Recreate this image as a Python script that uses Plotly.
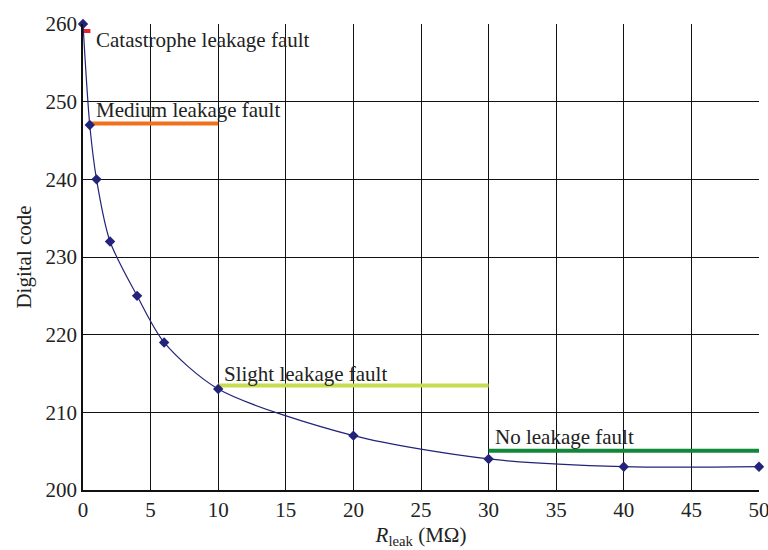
import plotly.graph_objects as go

r_leak = [0, 0.5, 1, 2, 4, 6, 10, 20, 30, 40, 50]
digital_code = [260, 247, 240, 232, 225, 219, 213, 207, 204, 203, 203]

fault_names = ["Catastrophe leakage fault", "Medium leakage fault",
               "Slight leakage fault", "No leakage fault"]
fault_x0 = [0, 0.5, 10, 30]
fault_x1 = [0.55, 10, 30, 50]
fault_y = [259.1, 247.2, 213.45, 205.05]
fault_colors = ["#e8202a", "#f07020", "#c8dc50", "#10883a"]
label_x = [0.85, 0.85, 10.3, 30.3]
label_y = [257.9, 248.9, 215.0, 206.8]

x_ticks = list(range(0, 51, 5))
y_ticks = list(range(200, 261, 10))

FONT = "Liberation Serif, Times New Roman, serif"
FS = 21

fig = go.Figure()

for name, x0, x1, y, c in zip(fault_names, fault_x0, fault_x1, fault_y, fault_colors):
    fig.add_trace(go.Scatter(x=[x0, x1], y=[y, y], mode="lines",
                             line=dict(color=c, width=4), showlegend=False,
                             hoverinfo="skip"))

fig.add_trace(go.Scatter(
    x=r_leak, y=digital_code, mode="lines+markers",
    line=dict(color="#23237a", width=1.2, shape="spline", smoothing=0.8),
    marker=dict(symbol="diamond", size=8, color="#23237a"),
    showlegend=False, cliponaxis=False))

for name, lx, ly in zip(fault_names, label_x, label_y):
    fig.add_annotation(x=lx, y=ly, text=name, showarrow=False,
                       xanchor="left", yanchor="middle",
                       font=dict(family=FONT, size=FS, color="#222"))

fig.update_xaxes(range=[0, 50], tickvals=x_ticks, showgrid=True,
                 gridcolor="#111", gridwidth=1, showline=True, linecolor="#111",
                 linewidth=1.5, mirror=False, zeroline=False, ticks="",
                 ticklabeloverflow="allow", automargin=False,
                 tickfont=dict(family=FONT, size=FS, color="#222"),
                 title=dict(text="<i>R</i><sub>leak</sub> (MΩ)", standoff=6,
                            font=dict(family=FONT, size=FS, color="#222")))
fig.update_yaxes(range=[200, 260], tickvals=y_ticks, showgrid=True,
                 gridcolor="#111", gridwidth=1, showline=True, linecolor="#111",
                 linewidth=1.5, zeroline=False, ticks="",
                 ticklabeloverflow="allow", automargin=False,
                 tickfont=dict(family=FONT, size=FS, color="#222"),
                 title=dict(text="Digital code", standoff=8,
                            font=dict(family=FONT, size=FS, color="#222")))

fig.update_layout(width=768, height=550, margin=dict(l=83, r=9, t=24, b=60),
                  plot_bgcolor="white", paper_bgcolor="white")

fig.write_html("out.html")
